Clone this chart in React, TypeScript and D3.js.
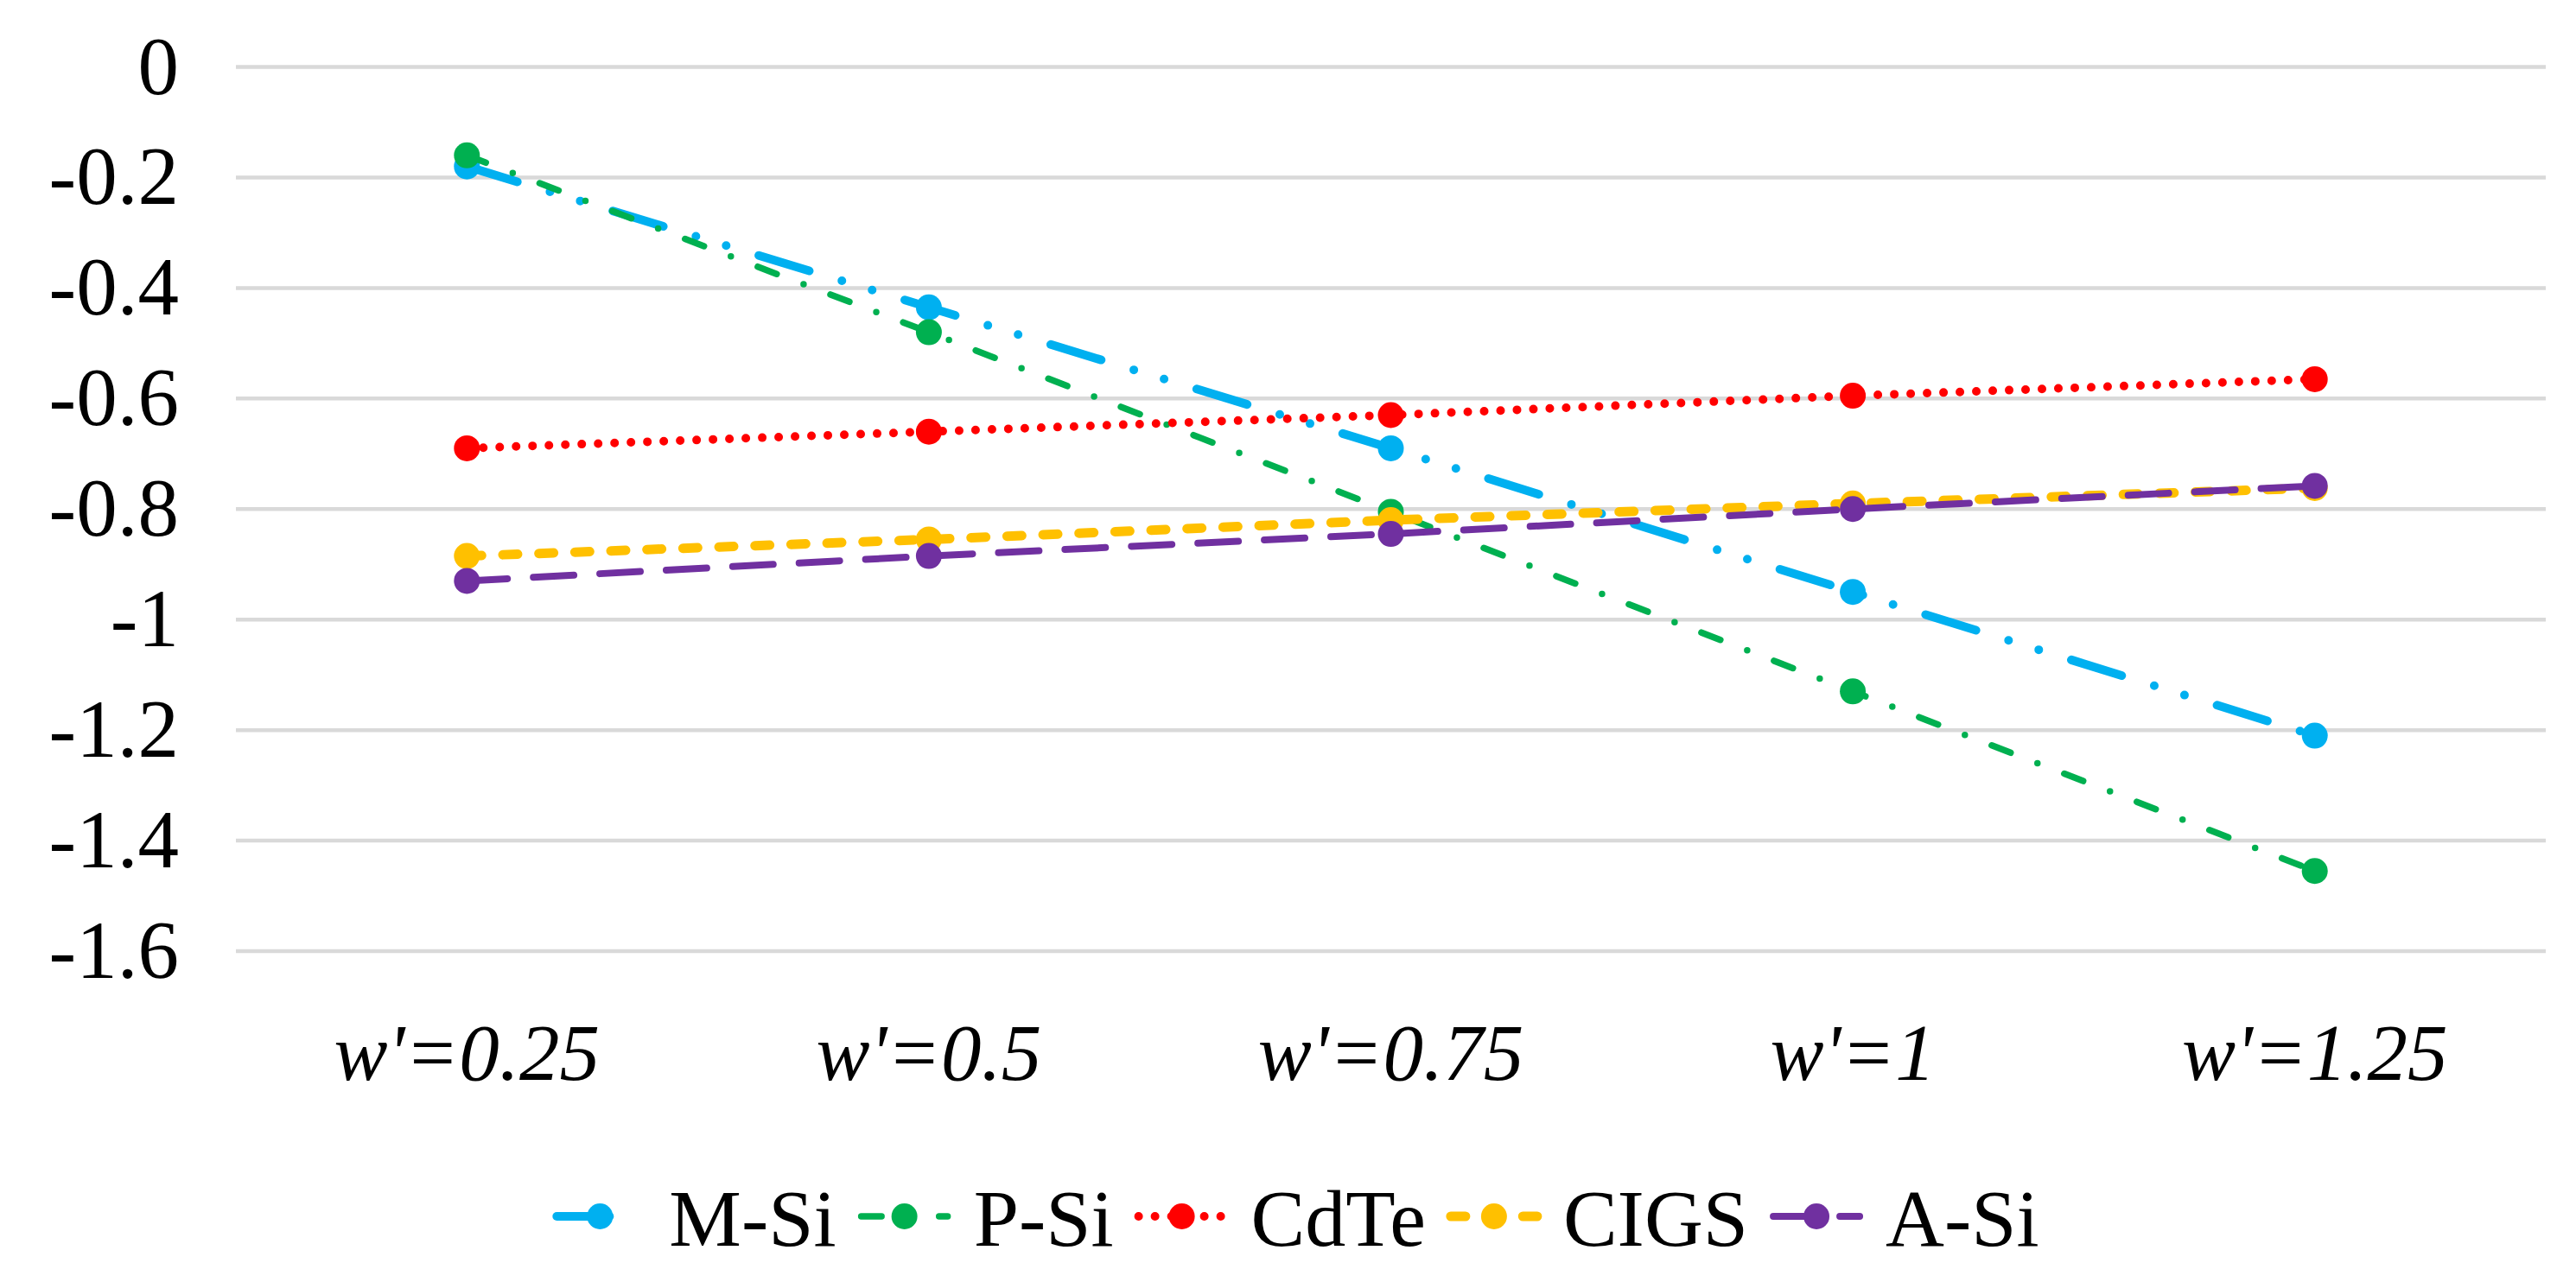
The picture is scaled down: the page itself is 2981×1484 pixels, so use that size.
import React, { useEffect, useRef } from 'react';
import * as d3 from 'd3';

// categories on the x axis
const categories = ["w'=0.25", "w'=0.5", "w'=0.75", "w'=1", "w'=1.25"];

// series values
const seriesNames = ['M-Si', 'P-Si', 'CdTe', 'CIGS', 'A-Si'];
const mSi = [-0.18, -0.435, -0.69, -0.95, -1.21];
const pSi = [-0.16, -0.48, -0.805, -1.13, -1.455];
const cdTe = [-0.69, -0.66, -0.63, -0.595, -0.565];
const cigs = [-0.885, -0.855, -0.82, -0.79, -0.762];
const aSi = [-0.93, -0.885, -0.845, -0.8, -0.758];

const yTicks = [0, -0.2, -0.4, -0.6, -0.8, -1, -1.2, -1.4, -1.6];

const colors = ['#00B0F0', '#00B050', '#FF0000', '#FFC000', '#7030A0'];

interface LineStyle {
    width: number;
    dash: string;
}

// Excel-like dash types, all with round caps
const lineStyles: LineStyle[] = [
    { width: 10, dash: '61 39.5 0 36.6 0 39.5' },
    { width: 7.5, dash: '23.5 33.3 0 33.3' },
    { width: 10, dash: '0 19' },
    { width: 11, dash: '17 24.7' },
    { width: 8, dash: '47 30' },
];

const WIDTH = 2981;
const HEIGHT = 1484;
const FONT = '"Liberation Serif", "Times New Roman", serif';
const MARKER_R = 15;

const App: React.FC = () => {
    const ref = useRef<SVGSVGElement>(null);

    useEffect(() => {
        if (!ref.current) return;
        const svg = d3.select(ref.current);
        svg.selectAll('*').remove();

        const values = [mSi, pSi, cdTe, cigs, aSi];
        const series = seriesNames.map((name, i) => ({ name, values: values[i], color: colors[i], style: lineStyles[i] }));

        const x = d3.scaleBand<string>()
            .domain(categories)
            .range([273, 2946]);

        const y = d3.scaleLinear()
            .domain([-1.6, 0])
            .range([1101, 77.5]);

        const cx = (c: string) => (x(c) ?? 0) + x.bandwidth() / 2;

        // gridlines
        svg.append('g')
            .selectAll('line')
            .data(yTicks)
            .enter()
            .append('line')
            .attr('x1', x.range()[0])
            .attr('x2', x.range()[1])
            .attr('y1', d => y(d))
            .attr('y2', d => y(d))
            .attr('stroke', '#d9d9d9')
            .attr('stroke-width', 4.5);

        // y tick labels
        svg.append('g')
            .selectAll('text')
            .data(yTicks)
            .enter()
            .append('text')
            .attr('x', 207)
            .attr('y', d => y(d))
            .attr('dy', 31)
            .attr('text-anchor', 'end')
            .style('font-family', FONT)
            .style('font-size', '95px')
            .style('fill', '#000')
            .text(d => (d === 0 ? '0' : String(d)));

        // x labels
        svg.append('g')
            .selectAll('text')
            .data(categories)
            .enter()
            .append('text')
            .attr('x', d => cx(d))
            .attr('y', 1250)
            .attr('text-anchor', 'middle')
            .style('font-family', FONT)
            .style('font-style', 'italic')
            .style('font-size', '93px')
            .style('fill', '#000')
            .text(d => d);

        const line = d3.line<number>()
            .x((_, i) => cx(categories[i]))
            .y(d => y(d));

        series.forEach(s => {
            const g = svg.append('g');
            g.append('path')
                .attr('d', line(s.values) ?? '')
                .attr('fill', 'none')
                .attr('stroke', s.color)
                .attr('stroke-width', s.style.width)
                .attr('stroke-dasharray', s.style.dash)
                .attr('stroke-linecap', 'round')
                .attr('stroke-linejoin', 'round');
            g.selectAll('circle')
                .data(s.values)
                .enter()
                .append('circle')
                .attr('cx', (_, i) => cx(categories[i]))
                .attr('cy', d => y(d))
                .attr('r', MARKER_R)
                .attr('fill', s.color);
        });

        // legend, laid out from measured text widths and centred on the page
        const legend = svg.append('g');
        const legendY = 1408;
        const items = series.map(s => {
            const item = legend.append('g');
            item.append('line')
                .attr('x1', -50)
                .attr('x2', 50)
                .attr('y1', 0)
                .attr('y2', 0)
                .attr('stroke', s.color)
                .attr('stroke-width', s.style.width)
                .attr('stroke-dasharray', s.style.dash)
                .attr('stroke-linecap', 'round');
            item.append('circle')
                .attr('r', MARKER_R)
                .attr('fill', s.color);
            const t = item.append('text')
                .attr('x', 80)
                .attr('y', 34)
                .style('font-family', FONT)
                .style('font-size', '94px')
                .style('fill', '#000')
                .text(s.name);
            const w = (t.node() as SVGTextElement).getComputedTextLength();
            return { item, w };
        });

        let offset = 0;
        const positions: number[] = [];
        items.forEach(({ w }) => {
            positions.push(offset);
            offset += 80 + w + 79;
        });
        const total = offset - 79 + 50;
        const start = 1502 - total / 2 + 50;
        items.forEach(({ item }, i) => {
            item.attr('transform', `translate(${start + positions[i]},${legendY})`);
        });
    }, []);

    return (
        <div style={{ position: 'absolute', left: 0, top: 0 }}>
            <svg ref={ref} width={WIDTH} height={HEIGHT} style={{ display: 'block', background: '#fff' }} />
        </div>
    );
};

export default App;
